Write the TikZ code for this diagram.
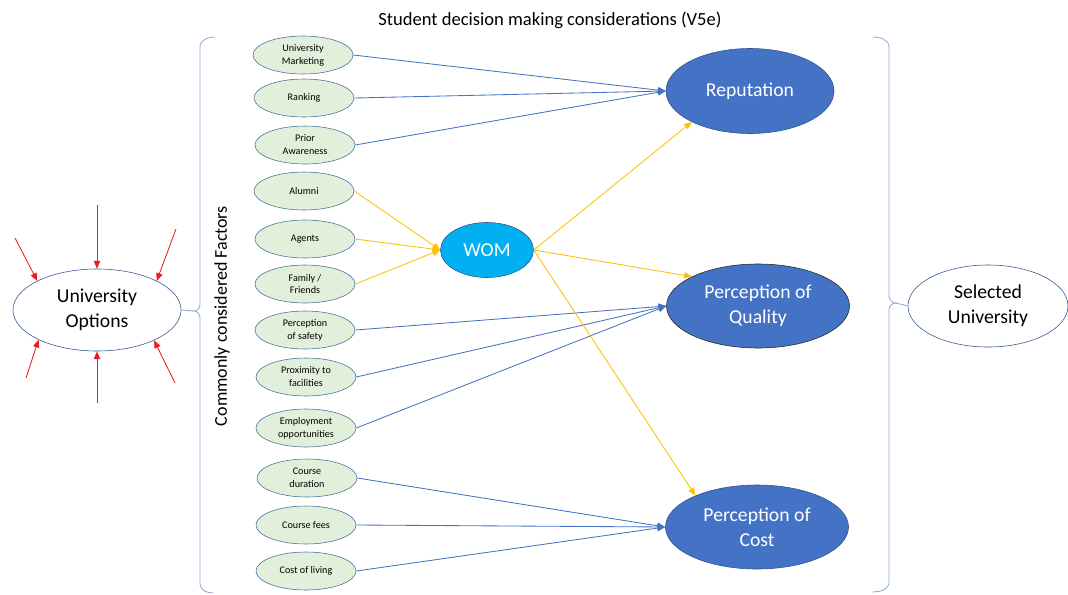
\documentclass[tikz,border=0pt]{standalone}
\usepackage{fontspec}
\setmainfont{Carlito}
\usetikzlibrary{arrows.meta,shapes.geometric}
\definecolor{factfill}{RGB}{226,239,218}
\definecolor{factline}{RGB}{65,113,156}
\definecolor{linkblue}{RGB}{68,114,196}
\definecolor{linkyellow}{RGB}{255,192,0}
\definecolor{bigblue}{RGB}{68,114,196}
\definecolor{bigline}{RGB}{47,82,143}
\definecolor{womblue}{RGB}{0,176,240}
\definecolor{bracecol}{RGB}{143,170,220}
\definecolor{optred}{RGB}{232,30,30}
\begin{document}
\begin{tikzpicture}[x=0.025cm,y=-0.025cm,
  factor/.style={ellipse,draw=factline,fill=factfill,minimum width=2.5cm,minimum height=0.95cm,inner sep=0pt,align=center,font=\fontsize{7.2}{9.2}\selectfont},
  outcome/.style={ellipse,draw=bigline,fill=bigblue,text=white,minimum width=4.575cm,minimum height=2.1cm,inner sep=0pt,align=center,font=\fontsize{14}{18}\selectfont},
  choice/.style={ellipse,draw=bigline,fill=white,minimum width=4.2cm,minimum height=2.05cm,inner sep=0pt,align=center,font=\fontsize{14}{18}\selectfont},
  blueline/.style={linkblue,line width=0.6pt,-{Triangle[length=5.5pt,width=4.5pt]}},
  yellowline/.style={linkyellow,line width=0.6pt,-{Triangle[length=5.5pt,width=4.5pt]}},
  redline/.style={optred,line width=0.6pt,-{Triangle[length=5.5pt,width=4.5pt]}}]
\useasboundingbox (0,0) rectangle (1068,594);
\node at (550,20) {\fontsize{13.2}{16}\selectfont Student decision making considerations (V5e)};
\node [rotate=90] at (222,316) {\fontsize{12.8}{15}\selectfont Commonly considered Factors};

\node [choice] (uniopt) at (97,310) {University\\Options};
\node [choice,minimum width=4cm,minimum height=2.05cm] (seluni) at (988,306) {Selected\\University};

\node [factor] (market) at (303,55) {University\\Marketing};
\node [factor] (rank) at (304,98) {Ranking};
\node [factor] (prior) at (305,145) {Prior\\Awareness};
\node [factor] (alumni) at (304,191) {Alumni};
\node [factor] (agents) at (305,239) {Agents};
\node [factor] (family) at (305,284) {Family /\\Friends};
\node [factor] (safety) at (305,330) {Perception\\of safety};
\node [factor] (prox) at (306,377) {Proximity to\\facilities};
\node [factor] (employ) at (306,428) {Employment\\opportunities};
\node [factor] (cdur) at (307,478) {Course\\duration};
\node [factor] (cfees) at (306,525) {Course fees};
\node [factor] (cliving) at (306,571) {Cost of living};

\node [outcome,fill=womblue,minimum width=2.325cm,minimum height=1.375cm] (wom) at (487,250) {WOM};
\node [outcome,minimum width=4.2cm,minimum height=2.125cm] (rep) at (750,91) {Reputation};
\node [outcome,draw=black!85] (qual) at (758,306) {Perception of\\Quality};
\node [outcome] (cost) at (757,527) {Perception of\\Cost};

\draw [bracecol,line width=0.6pt] (215,37) to[out=180,in=90] (200,47) -- (200,304) to[out=-90,in=0] (194,311) to[out=0,in=90] (200,318) -- (200,584) to[out=-90,in=180] (213,593);
\coordinate (ltip) at (194,311);
\draw [bracecol,line width=0.6pt] (uniopt.east) -- (ltip);
\draw [bracecol,line width=0.6pt] (873,37) to[out=0,in=90] (889,47) -- (889,296) to[out=-90,in=180] (896,303) to[out=180,in=90] (889,310) -- (889,582) to[out=-90,in=0] (873,592);
\coordinate (rtip) at (896,303);
\draw [bracecol,line width=0.6pt] (rtip) -- (seluni.west);

\coordinate (r1) at (15,238);
\coordinate (r2) at (97,205);
\coordinate (r3) at (176,229);
\coordinate (r4) at (26,378);
\coordinate (r5) at (97,403);
\coordinate (r6) at (175,383);
\foreach \c/\a in {r1/154,r2/90,r3/26,r4/207,r5/270,r6/332}
  \draw [redline] (\c) -- (uniopt.\a);

\foreach \f in {market,rank,prior}
  \draw [blueline] (\f.east) -- (rep.west);
\foreach \f in {alumni,agents,family}
  \draw [yellowline] (\f.east) -- (wom.west);
\foreach \f in {safety,prox,employ}
  \draw [blueline] (\f.east) -- (qual.west);
\foreach \f in {cdur,cfees,cliving}
  \draw [blueline] (\f.east) -- (cost.west);
\draw [yellowline] (wom.east) -- (rep.208);
\draw [yellowline] (wom.east) -- (qual.156);
\draw [yellowline] (wom.east) -- (cost.153);
\end{tikzpicture}
\end{document}
